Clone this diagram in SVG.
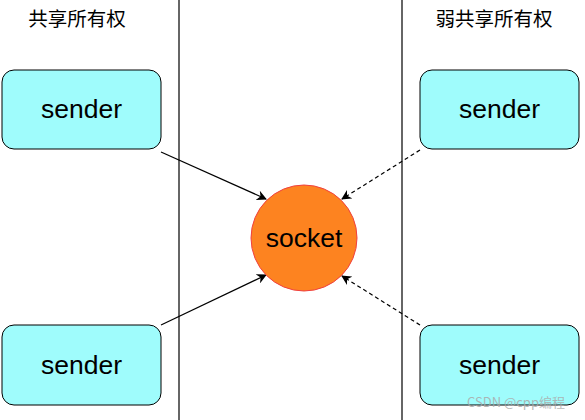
<svg xmlns="http://www.w3.org/2000/svg" width="585" height="420" viewBox="0 0 585 420">
<defs>
<style>
.box{fill:#9ffcfc;stroke:#000;stroke-width:1}
.lbl{font-family:"Liberation Sans",Arial,sans-serif;font-size:26.5px;fill:#000;text-anchor:middle}
.title{font-family:"Noto Sans CJK SC","Liberation Sans",sans-serif;font-size:19.5px;fill:#000;text-anchor:middle}
.edge{stroke:#000;stroke-width:1.2;fill:none}
.dash{stroke-dasharray:4 3}
.sep{stroke:#333;stroke-width:1.5}
</style>
<marker id="ah" viewBox="0 0 10 10" refX="9" refY="5" markerWidth="10" markerHeight="10" markerUnits="userSpaceOnUse" orient="auto">
<path d="M0,0 L10,5 L0,10 L3,5 Z" fill="#000"/>
</marker>
</defs>
<rect width="585" height="420" fill="#fff"/>
<g id="separators">
<line class="sep" x1="179" y1="0" x2="179" y2="420"/>
<line class="sep" x1="402" y1="0" x2="402" y2="420"/>
</g>
<text class="title" x="77" y="26">共享所有权</text>
<text class="title" x="494" y="26">弱共享所有权</text>
<g id="connectors">
<line class="edge" x1="161" y1="152" x2="266" y2="199" marker-end="url(#ah)"/>
<line class="edge" x1="161" y1="325" x2="266" y2="275" marker-end="url(#ah)"/>
<line class="edge dash" x1="420" y1="150" x2="342" y2="199" marker-end="url(#ah)"/>
<line class="edge dash" x1="420" y1="325" x2="342" y2="276" marker-end="url(#ah)"/>
</g>
<g id="sender-tl">
<rect class="box" x="2" y="70" width="159" height="79" rx="12"/>
<text class="lbl" x="81.5" y="118">sender</text>
</g>
<g id="sender-bl">
<rect class="box" x="2" y="325" width="159" height="80" rx="12"/>
<text class="lbl" x="81.5" y="374">sender</text>
</g>
<g id="sender-tr">
<rect class="box" x="420" y="70" width="159" height="79" rx="12"/>
<text class="lbl" x="499.5" y="118">sender</text>
</g>
<g id="sender-br">
<rect class="box" x="420" y="325" width="159" height="80" rx="12"/>
<text class="lbl" x="499.5" y="374">sender</text>
</g>
<g id="socket">
<circle cx="304" cy="238" r="53" fill="#fd8320" stroke="#f04040" stroke-width="1"/>
<text class="lbl" x="304" y="247">socket</text>
</g>
<text x="516" y="407" font-family="'Noto Sans CJK SC','Liberation Sans',sans-serif" font-size="13" fill="#aaa" fill-opacity="0.85" text-anchor="middle">CSDN @cpp编程</text>
</svg>
